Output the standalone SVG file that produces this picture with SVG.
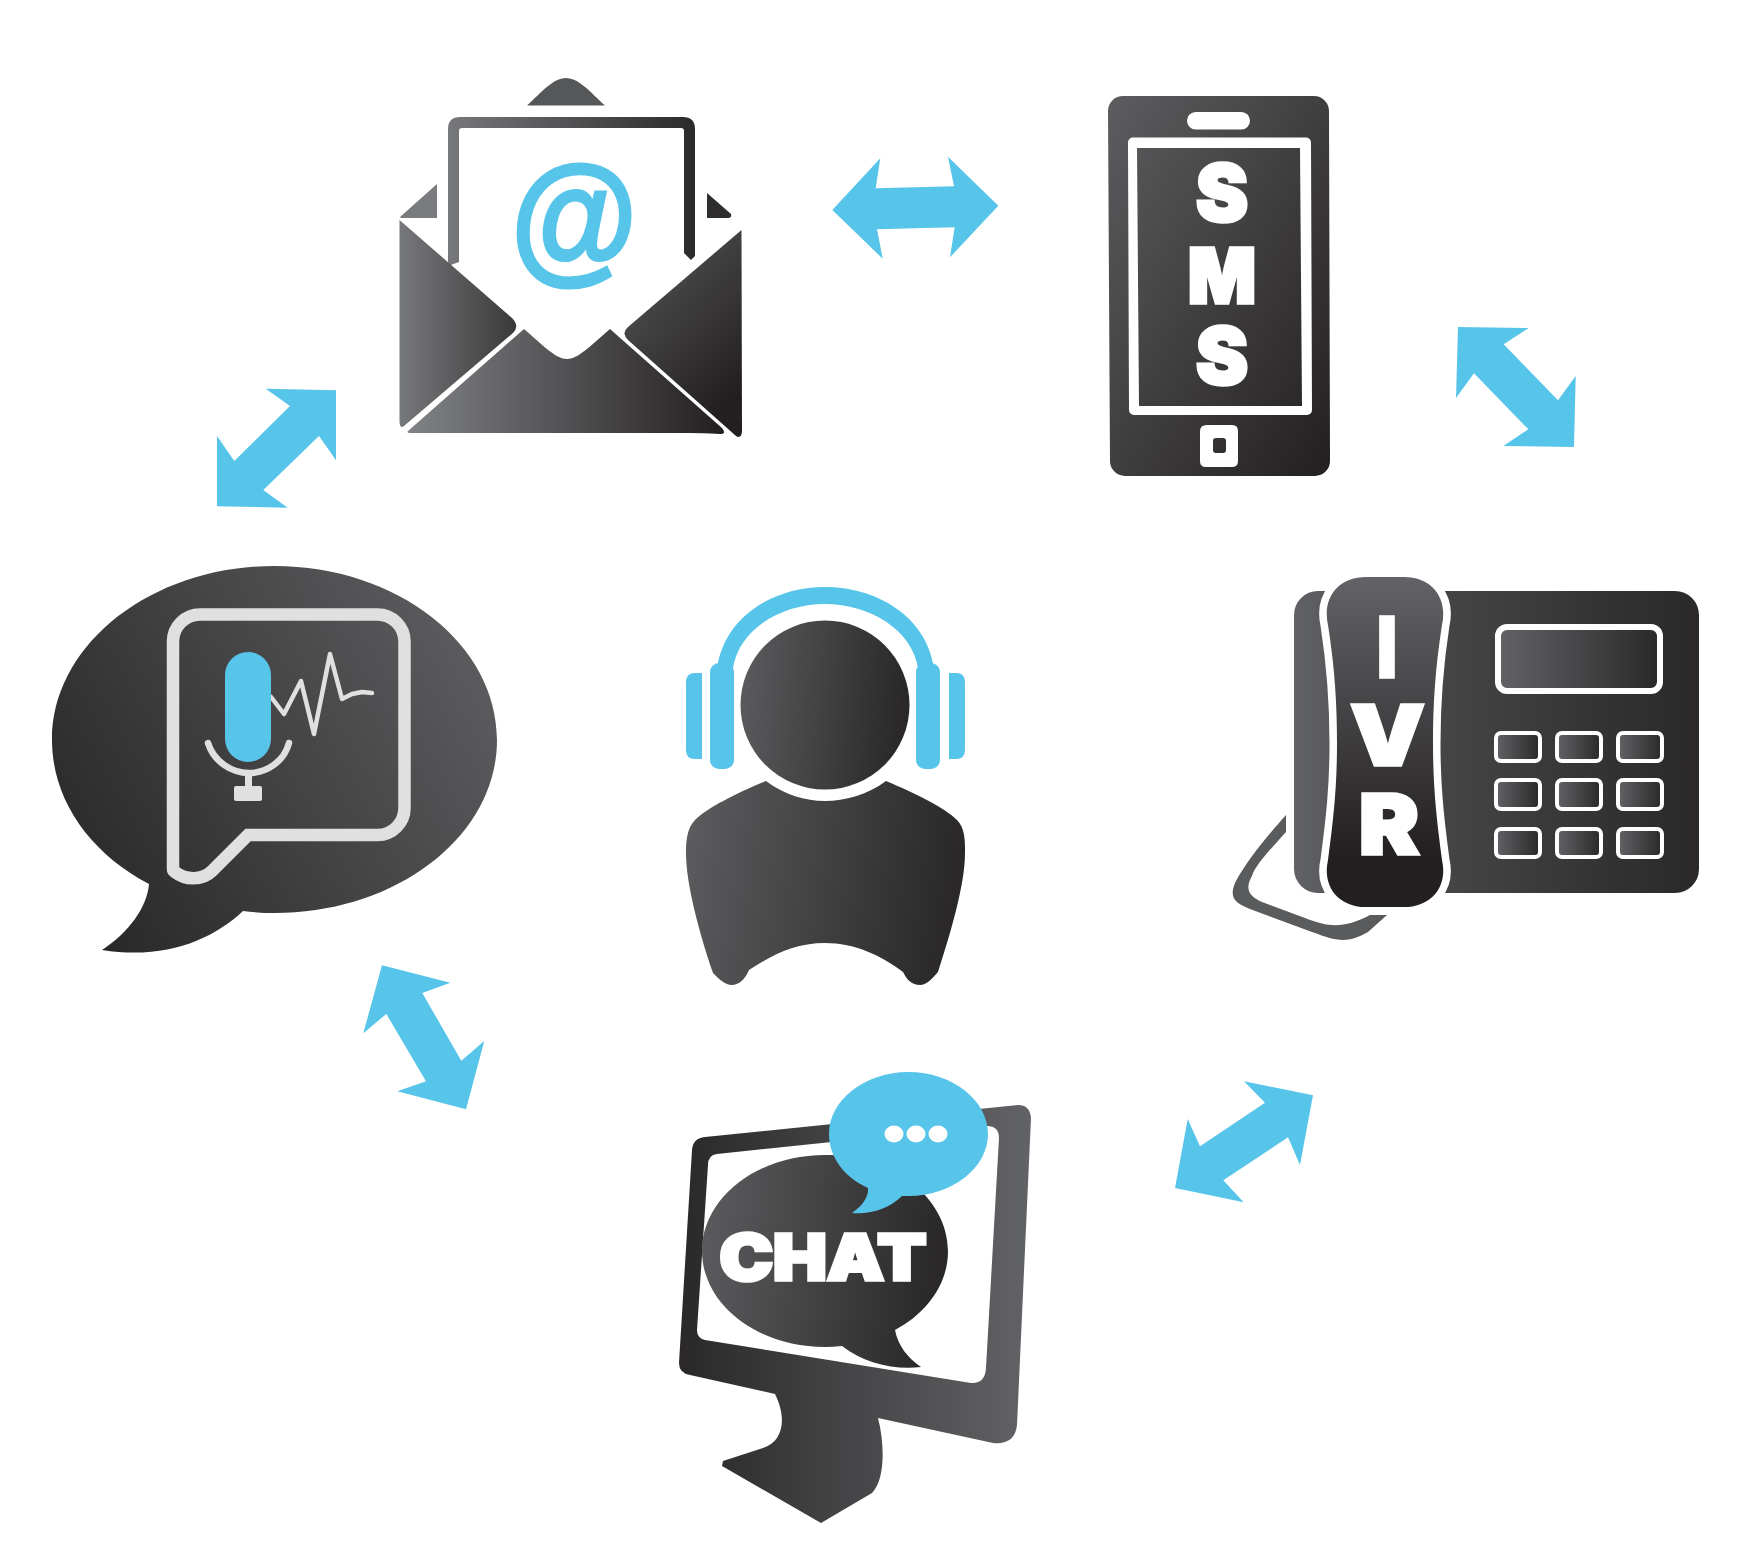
<svg xmlns="http://www.w3.org/2000/svg" width="1759" height="1553" viewBox="0 0 1759 1553">
<style>
.blue{fill:#57c5e9}
.arrow{fill:#57c5e9}
.lbl{font-family:Inter,"Liberation Sans",sans-serif;font-weight:900;fill:#fff;stroke:#fff;stroke-width:3.500;text-anchor:middle}
.wh{fill:#fff}
.env{fill:url(#gEnv)}
.key{fill:url(#gKey);stroke:#fff;stroke-width:4}
.ln{fill:none;stroke:#e0e0e0;stroke-linecap:round;stroke-linejoin:round}
</style>
<defs>
<linearGradient id="gEnv" x1="0" y1="0" x2="1" y2="0"><stop offset="0" stop-color="#808285"/><stop offset="1" stop-color="#231f20"/></linearGradient>
<linearGradient id="gFrame" x1="0" y1="0" x2="1" y2="0"><stop offset="0" stop-color="#77787b"/><stop offset="1" stop-color="#2c2a2b"/></linearGradient>
<linearGradient id="gLeft" x1="0" y1="0" x2="1" y2="0"><stop offset="0" stop-color="#77787b"/><stop offset="1" stop-color="#3a393a"/></linearGradient>
<linearGradient id="gRight" x1="0" y1="0" x2="0.6" y2="1"><stop offset="0" stop-color="#58595b"/><stop offset="1" stop-color="#231f20"/></linearGradient>
<linearGradient id="gPhone" x1="0" y1="0" x2="1" y2="1"><stop offset="0" stop-color="#5c5d5f"/><stop offset="1" stop-color="#231f20"/></linearGradient>
<linearGradient id="gBubble" x1="0" y1="0.75" x2="1" y2="0.25"><stop offset="0" stop-color="#2a2829"/><stop offset="1" stop-color="#5c5d5f"/></linearGradient>
<linearGradient id="gAgent" x1="0" y1="0" x2="1" y2="0.1"><stop offset="0" stop-color="#5c5d5f"/><stop offset="1" stop-color="#2a2829"/></linearGradient>
<linearGradient id="gDesk" x1="0" y1="0" x2="1" y2="0"><stop offset="0" stop-color="#616265"/><stop offset="0.25" stop-color="#4a4a4c"/><stop offset="1" stop-color="#2a2829"/></linearGradient>
<linearGradient id="gHand" x1="0" y1="0" x2="0" y2="1"><stop offset="0" stop-color="#626366"/><stop offset="0.85" stop-color="#231f20"/></linearGradient>
<linearGradient id="gKey" x1="0" y1="0" x2="1" y2="0"><stop offset="0" stop-color="#626366"/><stop offset="1" stop-color="#2a2829"/></linearGradient>
<linearGradient id="gMon" x1="0" y1="0" x2="1" y2="0"><stop offset="0" stop-color="#2a2829"/><stop offset="1" stop-color="#626366"/></linearGradient>
</defs>

<g id="connectors">
<polygon class="arrow" points="832.3,210 880.3,158.3 875.7,188.3 954,186.3 948,156.7 998.3,205.7 950,257.3 954.7,227.3 877,229.3 882.7,258.7"/>
<polygon class="arrow" points="1458,327 1528.7,328 1503.7,344.3 1558,400.3 1575.7,376 1574,447 1503.3,446 1528.3,429.3 1474,373.3 1456,398"/>
<polygon class="arrow" points="336,390.3 265.7,388.7 290,406 234.3,461 217,436 217,506.3 287.7,507.7 263.3,490 319,436 336,460.3"/>
<polygon class="arrow" points="382,965.3 450.3,982.7 422.3,993 461.3,1060.7 484.3,1041 466,1109.3 397.3,1091.3 426,1081.3 386.3,1014 363.3,1033.3"/>
<polygon class="arrow" points="1313,1095.3 1244,1081.3 1265,1102.7 1200,1146.3 1187.7,1119 1175,1188 1243.7,1202.3 1223.3,1180.3 1288,1137.3 1300,1165"/>
</g>

<g id="email">
<path d="M527 105.500C541 93 553 78 566 78C579 78 591 93 605 105.500Z" fill="#565759"/>
<path d="M448 266V129Q448 117 460 117H683Q695 117 695 129V256L691 260L684 253V131Q684 128 681 128H462Q459 128 459 131V262L448 266Z" fill="url(#gFrame)"/>
<path d="M400 217L437 184V218H401Z" fill="#7a7b7e"/>
<path d="M707 193L731 214Q732 218 728 218H707Z" fill="#2f2d2e"/>
<path d="M399.500 220L512 318Q520 326 513 333L404 426Q400 429 399.500 422Z" fill="url(#gLeft)"/>
<path d="M741.500 230L628 327Q621 333 628 340L736 436Q741 439 742 432Z" fill="url(#gRight)"/>
<path d="M408 431L524 329C545 347 556 359 567 359C578 359 589 347 610 329L722 428Q727 434 720 434Q700 433 690 433H412Q406 433 408 431Z" class="env"/>
<text x="572" y="268" font-family="'Liberation Sans',sans-serif" font-weight="700" font-style="italic" font-size="143" class="blue" stroke="#57c5e9" stroke-width="3" text-anchor="middle" textLength="127" lengthAdjust="spacingAndGlyphs">@</text>
</g>

<g id="sms">
<path d="M1124 96H1314A15 15 0 0 1 1329 111L1330 461A15 15 0 0 1 1315 476H1125A15 15 0 0 1 1110 461L1108 111A15 15 0 0 1 1124 96Z" fill="url(#gPhone)"/>
<rect x="1187" y="112" width="63" height="17.500" rx="8.700" class="wh"/>
<path d="M1133 137.500H1306A5 5 0 0 1 1311 142.500L1312 410A5 5 0 0 1 1307 415H1134A5 5 0 0 1 1129 410L1128 142.500A5 5 0 0 1 1133 137.500ZM1137 148L1139 406H1302L1300 148Z" fill="#fff" fill-rule="evenodd"/>
<path d="M1207 425H1232Q1238 425 1238 431V461Q1238 467 1232 467H1206Q1200 467 1200 461V431Q1200 425 1207 425ZM1216 438Q1213 438 1213 441V450Q1213 453 1216 453H1223Q1226 453 1226 450V441Q1226 438 1223 438Z" fill="#fff" fill-rule="evenodd"/>
<text class="lbl" x="1222" y="221" font-size="78" textLength="52" lengthAdjust="spacingAndGlyphs">S</text>
<text class="lbl" x="1222" y="302.500" font-size="76" textLength="68" lengthAdjust="spacingAndGlyphs">M</text>
<text class="lbl" x="1222" y="384" font-size="78" textLength="52" lengthAdjust="spacingAndGlyphs">S</text>
</g>

<g id="ivr">
<path d="M1286 815V832C1268 852 1255 866 1252 876C1245 888 1248 896 1262 902L1305 918C1330 928 1345 928 1370 915H1387L1368 932C1345 945 1335 940 1312 932L1250 909C1238 904 1228 900 1235 883C1245 863 1268 835 1286 815Z" fill="#5a5b5d"/>
<rect x="1294" y="591" width="405" height="302" rx="24" fill="url(#gDesk)"/>
<path d="M1328 625C1322 598 1338 577 1366 577H1404C1432 577 1448 598 1442 625C1435 670 1433 705 1433 743C1433 785 1436 815 1442 860C1448 886 1432 907 1404 907H1366C1338 907 1322 886 1328 860C1334 815 1337 785 1337 743C1337 705 1335 670 1328 625Z" fill="url(#gHand)" stroke="#fff" stroke-width="15" paint-order="stroke"/>
<text class="lbl" x="1387" y="676.500" font-size="83" textLength="19" lengthAdjust="spacingAndGlyphs">I</text>
<text class="lbl" x="1387.500" y="764.500" font-size="83" textLength="74" lengthAdjust="spacingAndGlyphs">V</text>
<text class="lbl" x="1389" y="853.500" font-size="83" textLength="60" lengthAdjust="spacingAndGlyphs">R</text>
<rect x="1498" y="627" width="162" height="64" rx="9" fill="url(#gKey)" stroke="#fff" stroke-width="6"/>
<rect class="key" x="1496" y="733" width="44" height="28" rx="5"/>
<rect class="key" x="1557" y="733" width="44" height="28" rx="5"/>
<rect class="key" x="1618" y="733" width="44" height="28" rx="5"/>
<rect class="key" x="1496" y="780" width="44" height="29" rx="5"/>
<rect class="key" x="1557" y="780" width="44" height="29" rx="5"/>
<rect class="key" x="1618" y="780" width="44" height="29" rx="5"/>
<rect class="key" x="1496" y="829" width="44" height="28" rx="5"/>
<rect class="key" x="1557" y="829" width="44" height="28" rx="5"/>
<rect class="key" x="1618" y="829" width="44" height="28" rx="5"/>
</g>

<g id="voice">
<path d="M274.500 566C397 566 497 644 497 740C497 836 397 913 274.500 913Q259 913 243 911C212 940 165 960 102 950C128 933 147 908 149 884C90 853 52 800 52 740C52 644 152 566 274.500 566Z" fill="url(#gBubble)"/>
<path d="M173 869V641.500A27 27 0 0 1 200 614.500H377.500A27 27 0 0 1 404.500 641.500V808A27 27 0 0 1 377.500 835H248L212 871C202 881 185 880 175 872Q173 871 173 869Z" fill="none" stroke="#e0e0e0" stroke-width="12.500"/>
<polyline class="ln" stroke-width="4.500" points="271,697 284,714 301,681 314,734 330,654 342,699 352,694 362,692 372,693"/>
<rect class="blue" x="225" y="652" width="46" height="110" rx="23"/>
<path class="ln" stroke-width="6.500" d="M208 743C214 762 232 773 249 773C266 773 284 762 289 743"/>
<rect x="245" y="775" width="7" height="13" fill="#e0e0e0"/>
<rect x="234" y="786" width="28" height="15" rx="2" fill="#e0e0e0"/>
</g>

<g id="agent">
<path d="M717 668C725 615 775 587 825 587C875 587 926 615 934 668H918C912 630 870 604 825 604C780 604 739 630 733 668Z" class="blue"/>
<rect class="blue" x="710" y="663" width="24" height="106" rx="9"/>
<rect class="blue" x="916" y="663" width="24" height="106" rx="9"/>
<path d="M702 673H695Q686 673 686 682V750Q686 759 695 759H702Z" class="blue"/>
<path d="M949 673H956Q965 673 965 682V750Q965 759 956 759H949Z" class="blue"/>
<circle cx="825" cy="705" r="84.500" fill="url(#gAgent)"/>
<path d="M766 781C785 795 805 801 825 801C845 801 867 795 886 781C915 793 945 808 957 820C966 829 965 845 965 853C965 885 950 935 938 972C932 979 926 985 920 985C912 985 907 980 903 972C880 955 855 943 825 943C795 943 772 955 749 970C745 980 738 985 732 985C725 985 719 979 713 973C700 935 686 885 686 853C686 845 686 829 695 820C707 808 737 793 766 781Z" fill="url(#gAgent)"/>
</g>

<g id="chat">
<path d="M692 1150Q693 1138 705 1137L1018 1105Q1030 1105 1031 1118L1017 1425Q1015 1445 993 1443L878 1418C885 1445 885 1480 872 1493L821 1523L722 1466L723 1461L763 1448C782 1442 788 1420 775 1394L690 1375Q679 1373 679 1363Z" fill="url(#gMon)"/>
<path d="M708 1165Q708 1155 717 1154L985 1126Q999 1125 999 1138L986 1368Q985 1384 971 1383L705 1340Q697 1338 697 1330Z" fill="#fff"/>
<path d="M825 1155C893 1155 948 1198 948 1251C948 1284 927 1313 895 1330C898 1346 908 1358 921 1367C895 1370 865 1364 842 1346Q833 1347 825 1347C757 1347 702 1304 702 1251C702 1198 757 1155 825 1155Z" fill="url(#gAgent)"/>
<path d="M908.500 1072C952 1072 988 1100 988 1134C988 1168 952 1196 908.500 1196H902C890 1208 870 1215 852 1213C862 1206 869 1197 868 1188C844 1177 829 1157 829 1134C829 1100 865 1072 908.500 1072Z" class="blue"/>
<ellipse class="wh" cx="894" cy="1134" rx="9.500" ry="8.500"/>
<ellipse class="wh" cx="916" cy="1134" rx="9.500" ry="8.500"/>
<ellipse class="wh" cx="938" cy="1134" rx="9.500" ry="8.500"/>
<text class="lbl" x="823" y="1280" font-size="63" textLength="207" lengthAdjust="spacingAndGlyphs">CHAT</text>
</g>
</svg>
